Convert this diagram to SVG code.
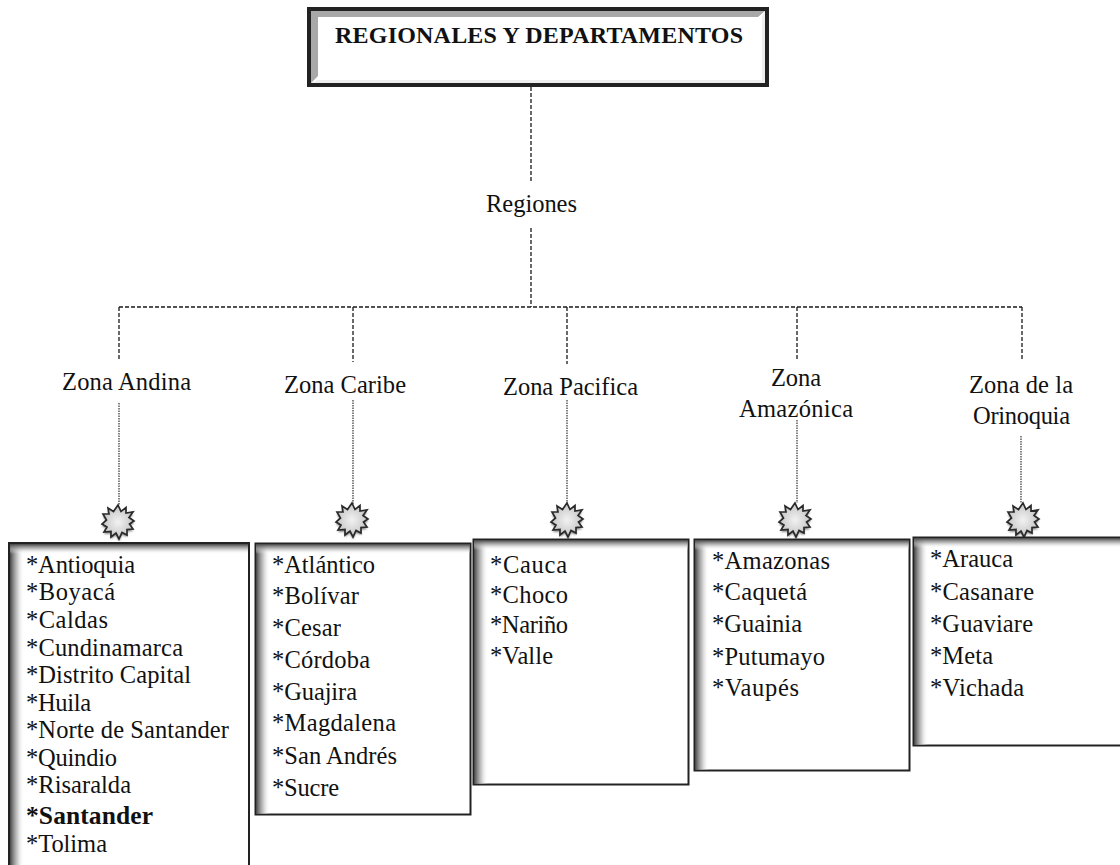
<svg xmlns="http://www.w3.org/2000/svg" width="1120" height="865" viewBox="0 0 1120 865">
<style>
text{font-family:"Liberation Serif","Times New Roman",serif;font-size:24.500px;fill:#111}
.b{fill:#fff;stroke:#222;stroke-width:2}
.d{fill:none;stroke:#1a1a1a;stroke-width:1.300;stroke-dasharray:4 2}
.o{fill:none;stroke:#333;stroke-width:1.200;stroke-dasharray:1.500 1}
</style>
<defs>
<linearGradient id="gl" x1="0" x2="1" y1="0" y2="0"><stop offset="0" stop-color="#444"/><stop offset="0.500" stop-color="#aaa" stop-opacity="0.700"/><stop offset="1" stop-color="#fff" stop-opacity="0"/></linearGradient>
<linearGradient id="gt" x1="0" x2="0" y1="0" y2="1"><stop offset="0" stop-color="#444"/><stop offset="0.500" stop-color="#aaa" stop-opacity="0.700"/><stop offset="1" stop-color="#fff" stop-opacity="0"/></linearGradient>
<radialGradient id="gs"><stop offset="0" stop-color="#f2f2f2"/><stop offset="1" stop-color="#c4c4c4"/></radialGradient>
<filter id="sh" x="-30%" y="-30%" width="160%" height="160%"><feGaussianBlur stdDeviation="1.200"/></filter>
<g id="star">
<polygon transform="translate(0 2)" points="0,-17 3,-10.5 8,-14.5 8,-9 15,-10 11,-4.5 16,-1 11.5,2 15,7 9,7.5 9,13 4,10.5 1,17 -2,11 -7,15 -7,9.5 -14,10 -11,5 -16,2 -11.5,-2 -15,-8 -9,-8 -10,-14 -4.5,-10.5" fill="#777" filter="url(#sh)"/>
<polygon points="0,-17 3,-10.500 8,-14.500 8,-9 15,-10 11,-4.500 16,-1 11.500,2 15,7 9,7.500 9,13 4,10.500 1,17 -2,11 -7,15 -7,9.500 -14,10 -11,5 -16,2 -11.500,-2 -15,-8 -9,-8 -10,-14 -4.500,-10.500" fill="url(#gs)" stroke="#2a2a2a" stroke-width="1.700"/>
</g>
</defs>
<rect width="1120" height="865" fill="#fff"/>
<g id="connectors">
<path class="d" d="M531 87V182M531 228V307M119 307H1022M119 307V359M353 307V362M567 307V364M797 307V360M1022 307V361"/>
<path class="o" d="M119 403V505M353 400V505M567 400V505M797 420V503M1021 436V503"/>
</g>
<g id="title">
<rect x="309" y="9" width="458" height="76" fill="#fff" stroke="#222" stroke-width="4"/>
<polygon points="311,11 765,11 758,17 318,17 318,76 311,83" fill="#a8a8a8"/>
<polygon points="765,11 765,83 311,83 318,80 762,80 762,17" fill="#eee"/>
<text x="335" y="43" style="font-weight:bold;font-size:24px" textLength="408">REGIONALES Y DEPARTAMENTOS</text>
</g>
<g id="regiones"><text x="486" y="212" textLength="91">Regiones</text></g>
<g id="zona-andina"><text x="62" y="390" textLength="129">Zona Andina</text></g>
<g id="zona-caribe"><text x="284" y="393" textLength="122">Zona Caribe</text></g>
<g id="zona-pacifica"><text x="503" y="395" textLength="135">Zona Pacifica</text></g>
<g id="zona-amazonica"><text x="771" y="386" textLength="50">Zona</text><text x="739" y="417" textLength="114">Amazónica</text></g>
<g id="zona-orinoquia"><text x="969" y="393" textLength="104">Zona de la</text><text x="973" y="424" textLength="97">Orinoquia</text></g>
<g id="box-andina">
<use href="#star" x="118" y="522"/>
<rect class="b" x="9" y="543" width="240" height="340"/>
<rect x="10" y="544" width="14" height="321" fill="url(#gl)"/><rect x="10" y="544" width="238" height="10" fill="url(#gt)"/>
<text x="26" y="573" textLength="109">*Antioquia</text><text x="26" y="600" textLength="89">*Boyacá</text><text x="26" y="628" textLength="82">*Caldas</text><text x="26" y="656" textLength="157">*Cundinamarca</text><text x="26" y="683" textLength="165">*Distrito Capital</text><text x="26" y="711" textLength="65">*Huila</text><text x="26" y="738" textLength="203">*Norte de Santander</text><text x="26" y="766" textLength="91">*Quindio</text><text x="26" y="793" textLength="105">*Risaralda</text><text x="26" y="824" style="font-weight:bold;font-size:25.500px" textLength="127">*Santander</text><text x="26" y="852" textLength="81">*Tolima</text>
</g>
<g id="box-caribe">
<use href="#star" x="352" y="520"/>
<rect class="b" x="255.500" y="543.500" width="215" height="271"/>
<rect x="256" y="544" width="14" height="270" fill="url(#gl)"/><rect x="256" y="544" width="214" height="10" fill="url(#gt)"/>
<text x="272" y="573" textLength="103">*Atlántico</text><text x="272" y="604" textLength="87">*Bolívar</text><text x="272" y="636" textLength="69">*Cesar</text><text x="272" y="668" textLength="98">*Córdoba</text><text x="272" y="700" textLength="85">*Guajira</text><text x="272" y="731" textLength="124">*Magdalena</text><text x="272" y="764" textLength="125">*San Andrés</text><text x="272" y="796" textLength="67">*Sucre</text>
</g>
<g id="box-pacifica">
<use href="#star" x="567" y="520"/>
<rect class="b" x="473.500" y="539.500" width="215" height="245"/>
<rect x="474" y="540" width="14" height="244" fill="url(#gl)"/><rect x="474" y="540" width="214" height="10" fill="url(#gt)"/>
<text x="490" y="573" textLength="77">*Cauca</text><text x="490" y="603" textLength="78">*Choco</text><text x="490" y="633" textLength="78">*Nariño</text><text x="490" y="664" textLength="63">*Valle</text>
</g>
<g id="box-amazonica">
<use href="#star" x="795" y="520"/>
<rect class="b" x="694.500" y="539.500" width="215" height="231"/>
<rect x="695" y="540" width="14" height="230" fill="url(#gl)"/><rect x="695" y="540" width="214" height="10" fill="url(#gt)"/>
<text x="712" y="569" textLength="118">*Amazonas</text><text x="712" y="600" textLength="95">*Caquetá</text><text x="712" y="632" textLength="90">*Guainia</text><text x="712" y="665" textLength="113">*Putumayo</text><text x="712" y="696" textLength="87">*Vaupés</text>
</g>
<g id="box-orinoquia">
<use href="#star" x="1023" y="520"/>
<rect class="b" x="913.500" y="537.500" width="220" height="208"/>
<rect x="914" y="538" width="14" height="207" fill="url(#gl)"/><rect x="914" y="538" width="206" height="10" fill="url(#gt)"/>
<text x="930" y="567" textLength="83">*Arauca</text><text x="930" y="600" textLength="104">*Casanare</text><text x="930" y="632" textLength="103">*Guaviare</text><text x="930" y="664" textLength="63">*Meta</text><text x="930" y="696" textLength="94">*Vichada</text>
</g>
</svg>
